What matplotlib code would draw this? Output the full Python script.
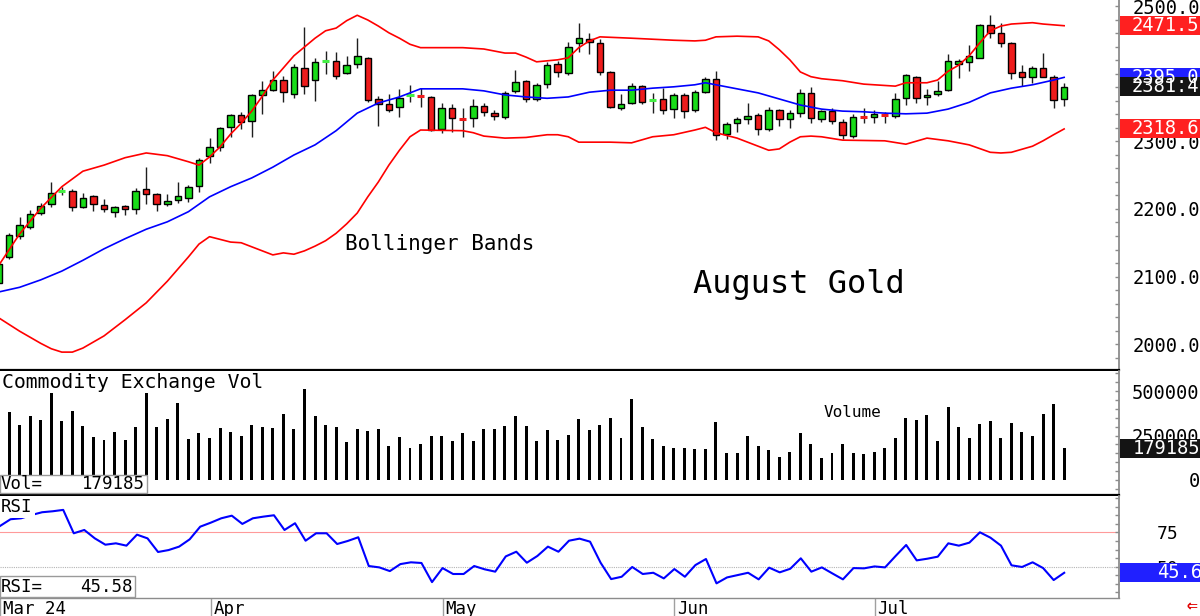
import matplotlib
matplotlib.use("Agg")
import matplotlib.pyplot as plt
from matplotlib.patches import Rectangle
from matplotlib.transforms import IdentityTransform, blended_transform_factory
from matplotlib.ticker import MultipleLocator

plt.rcParams['font.family'] = ['DejaVu Sans Mono', 'DejaVu Sans']

# ---------------- data ----------------
opens = [2090, 2129, 2160, 2173, 2194, 2207, 2226, 2227, 2203, 2219,
         2206, 2196, 2204, 2200, 2230, 2222, 2207, 2213, 2216, 2234,
         2279, 2292, 2321, 2339, 2330, 2369, 2376, 2391, 2370, 2409,
         2391, 2418, 2419, 2401, 2415, 2424, 2363, 2356, 2351, 2368,
         2369, 2366, 2319, 2350, 2334, 2335, 2353, 2342, 2336, 2375,
         2390, 2363, 2385, 2415, 2402, 2446, 2452, 2446, 2403, 2350,
         2357, 2382, 2360, 2363, 2348, 2369, 2347, 2373, 2393, 2311,
         2327, 2333, 2339, 2318, 2347, 2333, 2342, 2372, 2333, 2345,
         2329, 2308, 2337, 2336, 2340, 2338, 2364, 2396, 2366, 2370,
         2376, 2415, 2418, 2424, 2473, 2461, 2446, 2403, 2396, 2409,
         2396, 2363]
highs = [2128, 2164, 2188, 2199, 2209, 2240, 2232, 2230, 2224, 2221,
         2215, 2205, 2206, 2231, 2262, 2224, 2222, 2240, 2235, 2275,
         2305, 2322, 2341, 2344, 2370, 2390, 2404, 2397, 2415, 2470,
         2424, 2434, 2432, 2427, 2453, 2425, 2368, 2370, 2378, 2384,
         2379, 2368, 2357, 2356, 2350, 2363, 2357, 2347, 2375, 2406,
         2391, 2387, 2418, 2419, 2448, 2476, 2461, 2452, 2404, 2370,
         2387, 2384, 2372, 2379, 2372, 2372, 2376, 2396, 2404, 2329,
         2336, 2357, 2342, 2351, 2348, 2347, 2378, 2381, 2347, 2350,
         2333, 2341, 2350, 2347, 2344, 2372, 2400, 2397, 2378, 2390,
         2430, 2422, 2443, 2474, 2487, 2476, 2447, 2413, 2412, 2431,
         2399, 2387]
lows = [2085, 2126, 2156, 2170, 2191, 2203, 2220, 2197, 2201, 2197,
        2196, 2188, 2191, 2193, 2207, 2197, 2204, 2209, 2210, 2225,
        2268, 2286, 2306, 2318, 2306, 2341, 2375, 2358, 2364, 2370,
        2360, 2400, 2393, 2400, 2409, 2358, 2323, 2344, 2336, 2359,
        2351, 2316, 2313, 2314, 2307, 2321, 2338, 2332, 2334, 2372,
        2359, 2360, 2379, 2396, 2399, 2433, 2430, 2399, 2350, 2347,
        2356, 2356, 2342, 2341, 2335, 2335, 2344, 2372, 2302, 2304,
        2314, 2326, 2310, 2316, 2323, 2320, 2336, 2327, 2329, 2326,
        2304, 2305, 2327, 2327, 2327, 2335, 2354, 2357, 2354, 2368,
        2375, 2394, 2404, 2423, 2453, 2440, 2393, 2382, 2387, 2395,
        2350, 2353]
closes = [2118, 2161, 2176, 2193, 2204, 2224, 2227, 2203, 2216, 2207,
          2200, 2203, 2200, 2227, 2222, 2207, 2212, 2219, 2233, 2272,
          2292, 2320, 2339, 2329, 2369, 2376, 2391, 2373, 2410, 2382,
          2418, 2419, 2397, 2413, 2427, 2361, 2356, 2347, 2364, 2369,
          2368, 2317, 2350, 2335, 2333, 2353, 2344, 2338, 2372, 2388,
          2363, 2384, 2413, 2403, 2440, 2453, 2447, 2403, 2351, 2356,
          2382, 2359, 2361, 2347, 2369, 2345, 2373, 2393, 2310, 2326,
          2333, 2338, 2318, 2347, 2333, 2342, 2372, 2335, 2345, 2330,
          2310, 2336, 2336, 2341, 2339, 2363, 2399, 2364, 2369, 2375,
          2419, 2419, 2427, 2473, 2461, 2446, 2401, 2396, 2409, 2396,
          2361, 2381.4]

upper_idx = [0, 2, 4, 6, 8, 10, 12, 14, 16, 18, 19, 20, 21, 22, 23, 24, 25, 26,
             27, 28, 29, 30, 31, 32, 33, 34, 35, 36, 37, 38, 39, 40, 44, 46, 48,
             49, 50, 51, 53, 54, 55, 56, 57, 60, 64, 66, 67, 68, 70, 72, 73, 74,
             75, 76, 77, 78, 80, 82, 85, 86, 88, 89, 90, 91, 92, 93, 94, 95, 96,
             98, 99, 101]
upper_band = [2116, 2163, 2201, 2233, 2256, 2265, 2276, 2283, 2279, 2270, 2265,
              2277, 2292, 2311, 2327, 2345, 2367, 2391, 2409, 2427, 2440, 2453,
              2464, 2468, 2479, 2487, 2480, 2471, 2461, 2453, 2444, 2439, 2439,
              2437, 2431, 2431, 2425, 2418, 2421, 2424, 2439, 2449, 2455, 2453,
              2450, 2449, 2450, 2455, 2456, 2455, 2449, 2436, 2421, 2403, 2396,
              2393, 2390, 2385, 2382, 2387, 2387, 2391, 2404, 2413, 2427, 2446,
              2464, 2471, 2474, 2476, 2474, 2471.5]

mid_idx = [0, 2, 4, 6, 8, 10, 12, 14, 16, 18, 20, 22, 24, 26, 28, 30, 32, 34,
           36, 38, 40, 44, 46, 48, 50, 52, 54, 56, 58, 60, 62, 64, 66, 67, 68,
           70, 72, 74, 76, 78, 80, 82, 84, 86, 88, 90, 92, 94, 96, 98, 100, 101]
mid_band = [2077, 2084, 2095, 2108, 2124, 2141, 2156, 2170, 2181, 2196, 2218,
            2233, 2246, 2262, 2280, 2295, 2316, 2342, 2357, 2366, 2378, 2378,
            2375, 2369, 2366, 2364, 2366, 2373, 2376, 2376, 2379, 2381, 2384,
            2387, 2384, 2378, 2372, 2363, 2354, 2348, 2345, 2344, 2342, 2341,
            2342, 2348, 2358, 2372, 2379, 2384, 2391, 2395.0]

lower_idx = [0, 2, 4, 5, 6, 7, 8, 10, 12, 14, 16, 18, 19, 20, 22, 23, 24, 26,
             27, 28, 29, 30, 31, 32, 33, 34, 35, 36, 37, 38, 39, 40, 44, 45, 46,
             48, 50, 52, 53, 54, 55, 58, 60, 62, 64, 66, 67, 68, 70, 72, 73, 74,
             75, 76, 77, 78, 80, 84, 86, 88, 90, 92, 94, 95, 96, 98, 99, 100, 101]
lower_band = [2039, 2019, 2001, 1993, 1988, 1988, 1994, 2012, 2036, 2061, 2093,
              2129, 2148, 2159, 2151, 2150, 2144, 2132, 2135, 2133, 2138, 2145,
              2153, 2164, 2178, 2194, 2218, 2240, 2265, 2287, 2307, 2317, 2316,
              2313, 2308, 2305, 2306, 2310, 2310, 2307, 2299, 2299, 2298, 2307,
              2310, 2317, 2321, 2313, 2305, 2293, 2287, 2289, 2299, 2307, 2308,
              2307, 2302, 2301, 2296, 2305, 2301, 2295, 2284, 2283, 2284, 2293,
              2301, 2310, 2318.6]

volume = [384000, 309000, 360000, 337000, 487000, 332000, 388000, 305000, 240000, 223000,
          268000, 223000, 296000, 487000, 300000, 341000, 433000, 230000, 264000, 236000,
          290000, 268000, 245000, 309000, 298000, 294000, 369000, 287000, 513000, 360000,
          311000, 296000, 214000, 287000, 275000, 287000, 193000, 242000, 182000, 200000,
          245000, 249000, 219000, 264000, 219000, 287000, 287000, 305000, 360000, 305000,
          219000, 281000, 223000, 253000, 341000, 281000, 309000, 350000, 236000, 455000,
          300000, 230000, 189000, 182000, 182000, 176000, 176000, 328000, 152000, 154000,
          249000, 189000, 170000, 127000, 159000, 264000, 204000, 122000, 154000, 204000,
          154000, 144000, 159000, 180000, 236000, 348000, 337000, 365000, 221000, 410000,
          298000, 236000, 313000, 332000, 236000, 322000, 268000, 245000, 369000, 429000,
          179185]
volume_idx = list(range(1, 102))

rsi = [79.6, 84.5, 85.2, 87.6, 89.6, 90.3, 91.3, 74.3, 76.7, 70.6,
       66.0, 67.0, 65.3, 73.3, 70.6, 60.7, 62.1, 64.6, 69.9, 79.1,
       82.0, 85.2, 87.1, 81.1, 85.2, 86.4, 87.4, 76.7, 81.6, 68.9,
       74.3, 74.3, 66.5, 68.7, 71.4, 50.5, 49.5, 46.8, 51.9, 53.2,
       52.7, 38.8, 49.0, 44.7, 44.7, 50.5, 48.1, 46.4, 57.5, 60.9,
       52.9, 57.8, 64.6, 60.9, 68.9, 70.4, 68.2, 52.9, 41.0, 42.7,
       49.8, 44.7, 45.6, 41.5, 48.3, 42.7, 51.2, 55.6, 37.9, 42.2,
       43.9, 45.6, 40.8, 49.3, 45.9, 48.5, 56.1, 46.4, 49.5, 45.1,
       40.8, 49.0, 48.8, 50.2, 49.5, 57.8, 65.8, 54.6, 55.8, 57.3,
       67.0, 65.3, 67.5, 75.0, 71.1, 65.3, 51.0, 49.8, 53.2, 49.0,
       40.3, 45.58]

# the 2400.0 label is fully hidden behind the value boxes in the reference
price_ticks = [2000, 2100, 2200, 2300, 2400, 2500]
price_tick_labels = ['2000.0', '2100.0', '2200.0', '2300.0', '', '2500.0']
vol_ticks = [0, 250000, 500000]
vol_tick_labels = ['0', '250000', '500000']
rsi_ticks = [50, 75]
rsi_tick_labels = ['50', '75']
month_idx = [0, 20, 42, 64, 83]
month_labels = ['Mar 24', 'Apr', 'May', 'Jun', 'Jul']

# ---------------- figure ----------------
W, H = 1200, 616
fig = plt.figure(figsize=(W / 100, H / 100), dpi=100, facecolor='white')


def axes_px(x0, y0, x1, y1):
    return fig.add_axes([x0 / W, 1 - y1 / H, (x1 - x0) / W, (y1 - y0) / H])


ax_p = axes_px(0, 0, 1119, 370)
ax_v = axes_px(0, 371, 1119, 495)
ax_r = axes_px(0, 496, 1119, 598)

XLIM = (0.142, 106.2)
GRAY = '#8c8c8c'
for ax in (ax_p, ax_v, ax_r):
    ax.set_xlim(*XLIM)
    ax.set_facecolor('white')
    ax.spines['left'].set_visible(False)
    ax.spines['top'].set_visible(False)
    ax.spines['right'].set_color(GRAY)
    ax.spines['right'].set_linewidth(1.3)
    ax.yaxis.tick_right()
    ax.tick_params(axis='y', which='both', direction='in', color=GRAY,
                   length=3, width=1, labelsize=13.5)
for ax in (ax_p, ax_v):
    ax.set_xticks([])
    ax.spines['bottom'].set_color('black')
    ax.spines['bottom'].set_linewidth(1.6)
ax_r.spines['bottom'].set_color(GRAY)
ax_r.spines['bottom'].set_linewidth(1.0)

# ---------------- price panel ----------------
ax_p.set_ylim(1961.5, 2509.6)
GREEN = '#18dc18'
RED = '#ee1c1c'
BW = 0.62
for i, (o, h, l, c) in enumerate(zip(opens, highs, lows, closes)):
    ax_p.vlines(i, l, h, color='#1e1e1e', lw=1.0, zorder=2)
    if abs(c - o) <= 1.0:
        ax_p.hlines(c, i - 0.34, i + 0.34, color='#44ee44' if c >= o else RED,
                    lw=2.2, zorder=3)
    else:
        ax_p.add_patch(Rectangle((i - BW / 2, min(o, c)), BW, abs(c - o),
                                 facecolor=GREEN if c > o else RED,
                                 edgecolor='black', lw=1.0, zorder=3))

ax_p.plot(upper_idx, upper_band, color='#ff0000', lw=1.2, zorder=4)
ax_p.plot(lower_idx, lower_band, color='#ff0000', lw=1.2, zorder=4)
ax_p.plot(mid_idx, mid_band, color='#0000ff', lw=1.2, zorder=4)

ax_p.set_yticks(price_ticks)
ax_p.set_yticklabels(price_tick_labels)
ax_p.yaxis.set_minor_locator(MultipleLocator(20))
ax_p.tick_params(axis='y', which='both', pad=10)

# ---------------- volume panel ----------------
ax_v.set_ylim(-84270, 612360)
ax_v.bar(volume_idx, volume, width=0.28, color='black', zorder=2)
ax_v.set_yticks(vol_ticks)
ax_v.set_yticklabels(vol_tick_labels)
ax_v.yaxis.set_minor_locator(MultipleLocator(50000))
ax_v.tick_params(axis='y', which='both', pad=58)
for t in ax_v.get_yticklabels():
    t.set_horizontalalignment('right')

# ---------------- RSI panel ----------------
ax_r.set_ylim(27.25, 101.4)
ax_r.axhline(75, color='#ff9a9a', lw=0.8, zorder=1)
ax_r.axhline(50, color='#b4b4b4', lw=0.8, ls=(0, (1, 1)), zorder=1)
ax_r.plot(range(len(rsi)), rsi, color='#0000ff', lw=1.5, zorder=3)
ax_r.set_yticks(rsi_ticks)
ax_r.set_yticklabels(rsi_tick_labels)
ax_r.yaxis.set_minor_locator(MultipleLocator(6.25))
ax_r.tick_params(axis='y', which='both', pad=27, labelsize=13)

ax_r.set_xticks(month_idx)
ax_r.tick_params(axis='x', direction='out', length=13, width=1, color='#a0a0a0',
                 labelbottom=False)
trans_m = blended_transform_factory(ax_r.transData, ax_r.transAxes)
for mi, ml in zip(month_idx, month_labels):
    ax_r.text(mi + 0.28, -0.02, ml, transform=trans_m, ha='left', va='top',
              fontsize=12.5, color='black', clip_on=False)

# ---------------- annotations ----------------
def ftext(x, y, s, **kw):
    return fig.text(x / W, 1 - y / H, s, **kw)


ftext(345, 250, 'Bollinger Bands', fontsize=15, va='baseline', ha='left')
ftext(693, 293, 'August Gold', fontsize=23, va='baseline', ha='left')
ftext(2, 388, 'Commodity Exchange Vol', fontsize=14.2, va='baseline', ha='left')
ftext(824, 417, 'Volume', fontsize=11.5, va='baseline', ha='left')


def px_rect(x0, y0, x1, y1, **kw):
    r = Rectangle((x0, H - y1), x1 - x0, y1 - y0, transform=IdentityTransform(), **kw)
    fig.add_artist(r)
    return r


# left readout boxes
px_rect(0, 475, 147, 493, facecolor='white', edgecolor='#9a9a9a', lw=1)
ftext(1, 484, 'Vol=', fontsize=12.5, va='center', ha='left')
ftext(145, 484, f'{volume[-1]:d}', fontsize=12.5, va='center', ha='right')

px_rect(0, 497, 35, 518, facecolor='white', edgecolor='none')
ftext(1, 507, 'RSI', fontsize=12.5, va='center', ha='left')

px_rect(0, 576, 135, 597, facecolor='white', edgecolor='#9a9a9a', lw=1)
ftext(1, 587, 'RSI=', fontsize=12.5, va='center', ha='left')
ftext(133, 587, f'{rsi[-1]:.2f}', fontsize=12.5, va='center', ha='right')


# right value boxes
def value_box(ax, value, text, color, text_x):
    ypix = ax.transData.transform((0, value))[1]
    r = Rectangle((1120, ypix - 9.5), 90, 19, transform=IdentityTransform(),
                  facecolor=color, edgecolor='none', zorder=5)
    fig.add_artist(r)
    fig.text(text_x, ypix, text, transform=IdentityTransform(), color='white',
             fontsize=13.5, va='center', ha='left', zorder=6)


value_box(ax_p, upper_band[-1], f'{upper_band[-1]:.1f}', '#ff2020', 1132)
value_box(ax_p, mid_band[-1], f'{mid_band[-1]:.1f}', '#2020ff', 1132)
value_box(ax_p, closes[-1], f'{closes[-1]:.1f}', '#141414', 1132)
value_box(ax_p, lower_band[-1], f'{lower_band[-1]:.1f}', '#ff2020', 1132)
value_box(ax_v, volume[-1], f'{volume[-1]:d}', '#141414', 1133)
value_box(ax_r, rsi[-1], f'{rsi[-1]:.1f}', '#2020ff', 1157)

ftext(1186, 606, '\u21d0', fontsize=13, color='#e00000', va='center', ha='left',
      fontweight='bold')

fig.savefig('out.png', dpi=100, facecolor='white')
